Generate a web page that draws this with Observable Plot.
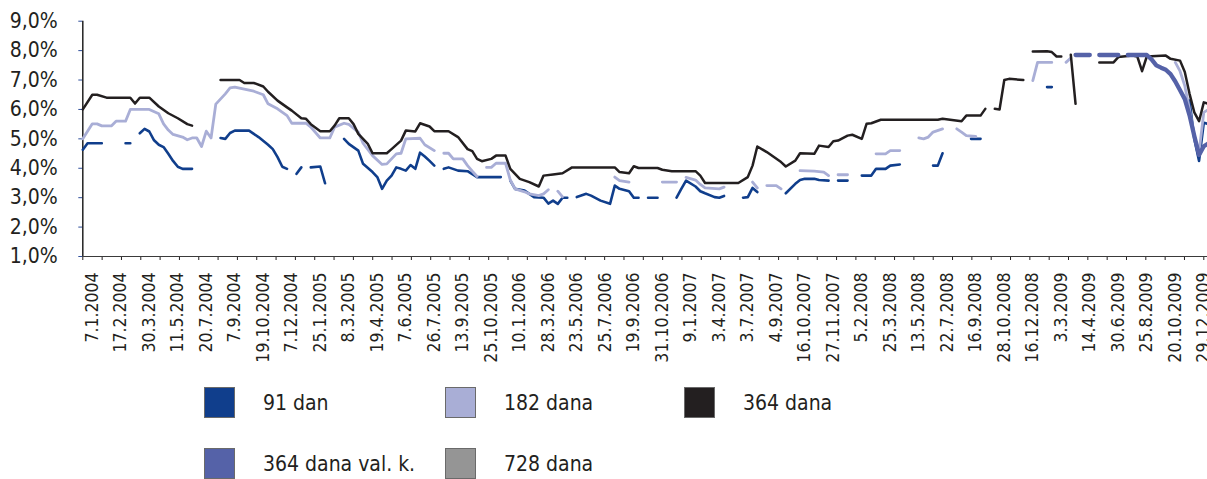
<!DOCTYPE html>
<html><head><meta charset="utf-8">
<script src="https://cdn.jsdelivr.net/npm/d3@7"></script>
<script src="https://cdn.jsdelivr.net/npm/@observablehq/plot@0.6"></script>
<style>
html,body{margin:0;padding:0;background:#fff;overflow:hidden;}
#wrap{position:relative;width:1207px;height:479px;overflow:hidden;font-family:"Liberation Sans Narrow","Arial Narrow","DejaVu Sans Condensed",sans-serif;color:#231f20;}
#chart svg{overflow:hidden;display:block;}
.leg{position:absolute;height:31px;display:flex;align-items:center;font-size:21px;white-space:nowrap;}
.leg .sw{box-sizing:border-box;width:31px;height:31px;border:1px solid #6a6a6a;margin-right:28px;}
</style></head><body>
<div id="wrap"><div id="chart"></div><div id="legend"></div></div>
<script>
// x tick labels (auction dates), one every 6th auction
const xTickLabels = ["7.1.2004","17.2.2004","30.3.2004","11.5.2004","20.7.2004","7.9.2004","19.10.2004","7.12.2004","25.1.2005","8.3.2005","19.4.2005","7.6.2005","26.7.2005","13.9.2005","25.10.2005","10.1.2006","28.3.2006","23.5.2006","25.7.2006","19.9.2006","31.10.2006","9.1.2007","3.4.2007","3.7.2007","4.9.2007","16.10.2007","27.11.2007","5.2.2008","25.3.2008","13.5.2008","22.7.2008","16.9.2008","28.10.2008","16.12.2008","3.3.2009","14.4.2009","30.6.2009","25.8.2009","20.10.2009","29.12.2009"];
const yTicks = [1,2,3,4,5,6,7,8,9];
const yTickLabels = ["1,0%","2,0%","3,0%","4,0%","5,0%","6,0%","7,0%","8,0%","9,0%"];

const seriesNames = ["91 dan","182 dana","364 dana","364 dana val. k.","728 dana"];
const seriesColors = ["#103e8c","#a9aed6","#231f20","#5562a8","#959595"];

// [auction number, rate %]; null = no auction result
const s91 = [[0,4.63],[1,4.85],[4,4.85],[5,null],[9,4.85],[10,4.85],[11,null],[12,5.19],[13,5.34],[14,5.25],[15,4.95],[16,4.8],[17,4.72],[18,4.49],[19,4.25],[20,4.05],[21,3.98],[23,3.98],[24,null],[29,5.03],[30,5.0],[31,5.2],[32,5.28],[35,5.28],[37,5.06],[39,4.8],[40,4.65],[41,4.38],[42,4.05],[43,3.98],[44,null],[45,3.81],[46,4.03],[47,null],[48,4.03],[50,4.06],[51,3.49],[52,null],[55,5.0],[56,4.83],[58,4.6],[59,4.15],[61,3.87],[62,3.7],[63,3.3],[64,3.58],[65,3.75],[66,4.03],[67,3.98],[68,3.92],[69,4.11],[70,3.98],[71,4.53],[72,4.4],[73,4.25],[74,4.09],[75,null],[76,3.98],[77,4.03],[79,3.92],[81,3.9],[83,3.7],[88,3.7],[89,null],[90,3.58],[91,3.3],[93,3.24],[95,3.02],[97,3.0],[98,2.8],[99,2.9],[100,2.79],[101,3.0],[102,3.0],[103,null],[104,3.02],[106,3.13],[107,3.07],[109,2.9],[111,2.79],[112,3.41],[113,3.3],[115,3.22],[116,3.0],[117,3.0],[118,null],[119,3.0],[121,3.0],[122,null],[125,3.0],[126,3.3],[127,3.58],[129,3.38],[130,3.22],[131,3.15],[133,3.02],[134,3.0],[135,3.06],[136,null],[139,3.0],[140,3.02],[141,3.33],[142,3.19],[143,null],[148,3.15],[150,3.47],[151,3.6],[152,3.64],[154,3.64],[155,3.6],[157,3.58],[158,null],[159,3.58],[161,3.58],[162,null],[164,3.75],[166,3.75],[167,3.98],[169,3.98],[170,4.09],[172,4.13],[173,null],[179,4.09],[180,4.09],[181,4.51],[182,null],[187,5.0],[189,5.0],[190,null],[203,6.76],[204,6.76],[205,null],[233,6.3],[234,5.0],[235,4.25],[236,5.55],[237,5.5]];

const s182 = [[0,5.0],[2,5.51],[3,5.51],[4,5.44],[6,5.44],[7,5.6],[9,5.6],[10,6.0],[14,6.0],[16,5.85],[17,5.51],[18,5.3],[19,5.15],[21,5.06],[22,4.97],[23,5.03],[24,5.03],[25,4.74],[26,5.26],[27,5.03],[28,6.18],[30,6.53],[31,6.73],[32,6.76],[34,6.69],[36,6.62],[38,6.5],[39,6.19],[41,6.02],[43,5.79],[44,5.53],[47,5.53],[48,5.4],[50,5.03],[52,5.03],[53,5.4],[55,5.53],[56,5.49],[58,5.23],[59,4.85],[61,4.43],[63,4.13],[64,4.15],[66,4.49],[67,4.51],[68,5.0],[71,5.02],[72,4.8],[74,4.6],[75,null],[76,4.51],[77,4.51],[78,4.32],[80,4.32],[81,4.09],[82,3.9],[83,3.72],[84,null],[85,4.03],[86,4.03],[87,4.17],[89,4.17],[90,3.6],[91,3.3],[93,3.2],[94,3.13],[96,3.07],[97,3.13],[98,3.27],[99,null],[100,3.22],[101,3.03],[102,null],[112,3.7],[113,3.58],[115,3.53],[116,null],[122,3.53],[125,3.53],[126,null],[127,3.69],[129,3.6],[130,3.45],[131,3.33],[134,3.3],[135,3.36],[136,null],[141,3.53],[142,3.33],[143,null],[144,3.41],[146,3.41],[147,3.3],[148,null],[151,3.92],[154,3.9],[156,3.87],[157,3.75],[158,null],[159,3.78],[161,3.78],[162,null],[167,4.49],[169,4.49],[170,4.6],[172,4.6],[173,null],[176,5.03],[177,5.0],[178,5.06],[179,5.23],[181,5.34],[182,null],[184,5.34],[185,5.23],[186,5.11],[188,5.08],[189,null],[200,6.98],[201,7.6],[204,7.6],[205,null],[207,7.6],[208,7.75],[209,null],[230,7.6],[231,7.3],[232,6.8],[233,6.0],[234,5.1],[235,4.55],[236,5.9],[237,6.0]];

const s364 = [[0,6.0],[2,6.5],[3,6.5],[5,6.4],[10,6.4],[11,6.2],[12,6.4],[14,6.4],[16,6.1],[18,5.87],[20,5.7],[22,5.5],[23,5.45],[24,null],[29,7.0],[33,7.0],[34,6.9],[36,6.9],[38,6.78],[39,6.6],[41,6.3],[43,6.07],[44,5.96],[46,5.7],[47,5.68],[48,5.5],[50,5.26],[52,5.26],[53,5.45],[54,5.7],[56,5.7],[57,5.5],[58,5.17],[60,4.83],[61,4.51],[64,4.51],[65,4.65],[67,4.94],[68,5.28],[70,5.25],[71,5.53],[73,5.42],[74,5.26],[77,5.26],[79,5.06],[81,4.65],[82,4.58],[83,4.32],[84,4.24],[86,4.32],[87,4.43],[89,4.43],[90,3.98],[92,3.64],[94,3.53],[96,3.38],[97,3.75],[99,3.79],[101,3.83],[103,4.03],[112,4.03],[113,3.87],[115,3.83],[116,4.07],[117,4.01],[121,4.01],[122,3.95],[124,3.9],[129,3.9],[130,3.75],[131,3.5],[138,3.5],[140,3.7],[141,4.09],[142,4.74],[144,4.55],[147,4.21],[148,4.06],[150,4.26],[151,4.51],[154,4.49],[155,4.77],[157,4.72],[158,4.92],[159,4.94],[161,5.11],[162,5.14],[164,5.0],[165,5.51],[166,5.53],[168,5.65],[180,5.65],[181,5.68],[185,5.6],[186,5.79],[189,5.79],[190,6.02],[191,null],[192,6.02],[193,6.0],[194,7.0],[195,7.04],[198,7.0],[199,null],[200,7.97],[203,7.98],[204,7.95],[205,7.8],[206,7.8],[207,null],[208,7.86],[209,6.19],[210,null],[214,7.6],[217,7.6],[218,7.78],[221,7.83],[222,7.8],[223,7.3],[224,7.8],[228,7.83],[229,7.72],[231,7.66],[232,7.27],[233,6.53],[234,5.9],[235,5.6],[236,6.24],[237,6.19]];

const s364vk = [[209,7.85],[212,7.85],[213,null],[214,7.85],[218,7.85],[219,null],[220,7.85],[224,7.85],[225,7.7],[226,7.5],[227,7.42],[228,7.35],[229,7.2],[230,6.95],[231,6.65],[232,6.35],[233,5.8],[234,5.1],[235,4.45],[236,4.75],[237,4.85]];

const s728 = [];

const seriesData = [s91, s182, s364, s364vk, s728];
const seriesWidths = [2.6, 2.8, 2.5, 4.3, 2.5];

const nAuctions = 237;
const labelEvery = 6, labelOffset = 2;
const labelPositions = xTickLabels.map((_, j) => labelOffset + labelEvery * j);
const tickMarkPositions = d3.range(0, 59).map(t => t * 236 / 58);

const lineMarks = seriesData.map((arr, k) => Plot.line(arr.map(([i, v]) => ({i, v})), {
  x: "i", y: "v", stroke: seriesColors[k], strokeWidth: seriesWidths[k],
  strokeLinejoin: "round", strokeLinecap: "round"
}));

const chart = Plot.plot({
  width: 1207, height: 370,
  marginLeft: 82.3, marginRight: 0, marginTop: 20.7, marginBottom: 114,
  style: {fontFamily: '"Liberation Sans Narrow","Arial Narrow","DejaVu Sans Condensed",sans-serif', color: "#231f20", background: "#fff"},
  x: {domain: [0, nAuctions], range: [82.3, 82.3 + nAuctions * 4.75], label: null},
  y: {domain: [1, 9], label: null},
  marks: [
    Plot.axisY({ticks: yTicks, tickFormat: d => yTickLabels[yTicks.indexOf(d)], tickSize: 4, tickPadding: 21, fontSize: 21, stroke: "#2f4f9c", fill: "#231f20", label: null}),
    Plot.axisX({ticks: tickMarkPositions, tickFormat: () => "", tickSize: 4, stroke: "#231f20", label: null}),
    Plot.axisX({ticks: labelPositions, tickFormat: d => xTickLabels[labelPositions.indexOf(d)], tickSize: 0, tickPadding: 16, tickRotate: -90, fontSize: 17.5, fill: "#231f20", label: null}),
    Plot.ruleY([1], {stroke: "#3a3a3a", strokeWidth: 1.2}),
    Plot.ruleX([0], {stroke: "#222", strokeWidth: 1.5}),
    ...lineMarks
  ]
});
document.getElementById("chart").appendChild(chart);

// legend
const legendSlots = [[204,387],[445,387],[684,387],[204,448],[445,448]];
const leg = document.getElementById("legend");
seriesNames.forEach((name, k) => {
  const d = document.createElement("div");
  d.className = "leg";
  d.style.left = legendSlots[k][0] + "px";
  d.style.top = legendSlots[k][1] + "px";
  d.innerHTML = `<span class="sw" style="background:${seriesColors[k]}"></span><span>${name}</span>`;
  leg.appendChild(d);
});
</script>
</body></html>
